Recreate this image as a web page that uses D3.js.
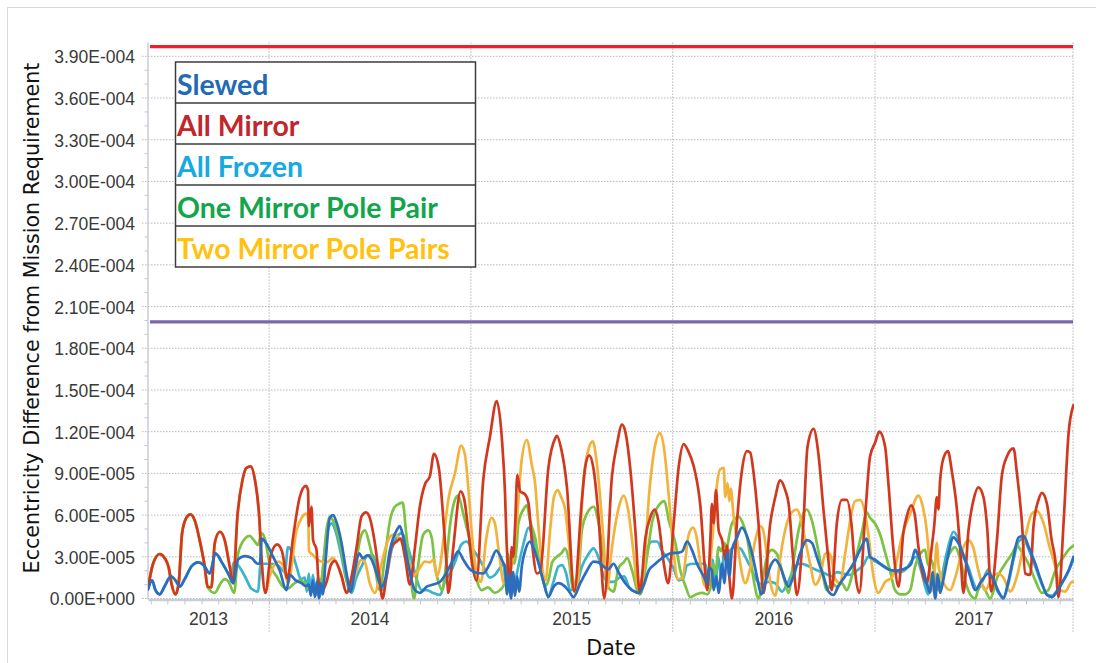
<!DOCTYPE html>
<html><head><meta charset="utf-8">
<script src="https://cdn.jsdelivr.net/npm/d3@7"></script>
<style>html,body{margin:0;padding:0;background:#fff;} svg{display:block;}</style>
</head><body><svg id="chart" width="1096" height="663"></svg>
<script>
// ---- DATA (time as decimal year, value in units of 1e-5) ----
const unit = 1e-5;
const yTickValues = [0, 3e-5, 6e-5, 9e-5, 1.2e-4, 1.5e-4, 1.8e-4, 2.1e-4, 2.4e-4, 2.7e-4, 3.0e-4, 3.3e-4, 3.6e-4, 3.9e-4];
const yMinorStep = 1e-5;
const years = [2013, 2014, 2015, 2016, 2017];
const dateStart = "2013-05-27", dateEnd = "2017-12-25";
const requirementLine = 3.97e-4;
const halfRequirementLine = 1.99e-4;
const legendLabels = ["Slewed", "All Mirror", "All Frozen", "One Mirror Pole Pair", "Two Mirror Pole Pairs"];

const slewed = [
[2013.400,0.66],[2013.420,1.3],[2013.437,0.6],[2013.458,0.3],[2013.483,0.9],[2013.513,1.6],[2013.541,1.2],[2013.557,0.85],[2013.582,1.4],[2013.615,2.3],[2013.648,2.6],[2013.676,2.4],[2013.706,1.8],[2013.734,3.25],[2013.766,2.6],[2013.797,1.8],[2013.822,1.1],[2013.846,2.8],[2013.880,3.05],[2013.914,2.9],[2013.944,2.5],[2013.954,2.5],[2013.964,4.3],[2013.984,4.0],
[2014.020,3.0],[2014.053,2.0],[2014.086,0.6],[2014.103,1.7],[2014.132,1.3],[2014.161,1.1],[2014.182,0.9],[2014.197,1.0],[2014.207,0.2],[2014.217,1.3],[2014.227,0.1],[2014.237,1.2],[2014.247,0.0],[2014.256,1.1],[2014.266,0.3],[2014.279,2.5],[2014.301,5.8],[2014.317,6.0],[2014.336,5.4],[2014.359,4.0],[2014.384,1.8],[2014.404,0.5],[2014.425,2.0],[2014.446,3.25],[2014.465,2.9],[2014.486,3.1],[2014.508,2.8],[2014.529,2.0],[2014.557,0.85],[2014.574,1.3],[2014.599,3.5],[2014.632,4.9],[2014.648,5.2],[2014.665,4.4],[2014.689,2.5],[2014.723,0.6],[2014.747,0.4],[2014.781,0.85],[2014.813,1.0],[2014.847,1.2],[2014.880,1.9],[2014.913,2.8],[2014.937,3.4],[2014.962,2.8],[2014.995,2.1],
[2015.028,1.85],[2015.061,1.8],[2015.094,2.5],[2015.126,3.45],[2015.144,3.1],[2015.159,2.6],[2015.169,2.3],[2015.179,0.3],[2015.189,1.8],[2015.199,0.0],[2015.209,1.9],[2015.219,0.2],[2015.229,1.6],[2015.239,0.5],[2015.253,2.4],[2015.268,3.4],[2015.293,4.1],[2015.308,3.7],[2015.334,2.6],[2015.358,1.3],[2015.384,0.1],[2015.408,0.8],[2015.434,1.1],[2015.467,0.85],[2015.487,0.5],[2015.508,0.1],[2015.542,1.1],[2015.575,2.0],[2015.608,2.65],[2015.633,2.6],[2015.658,2.3],[2015.681,2.1],[2015.707,2.5],[2015.731,1.9],[2015.765,1.1],[2015.799,0.6],[2015.832,0.4],[2015.855,0.9],[2015.881,2.0],[2015.914,2.5],[2015.956,3.0],[2015.989,3.25],
[2016.030,3.3],[2016.048,3.4],[2016.071,4.1],[2016.095,3.5],[2016.120,2.5],[2016.153,1.6],[2016.170,1.1],[2016.181,2.2],[2016.194,2.0],[2016.202,0.6],[2016.216,1.6],[2016.227,0.4],[2016.244,2.5],[2016.255,1.1],[2016.268,3.25],[2016.280,1.6],[2016.293,3.5],[2016.318,4.4],[2016.342,5.1],[2016.367,4.5],[2016.392,3.25],[2016.416,1.6],[2016.438,0.3],[2016.457,1.1],[2016.482,2.3],[2016.507,2.8],[2016.531,2.3],[2016.556,1.3],[2016.572,0.85],[2016.597,1.6],[2016.630,3.25],[2016.663,4.2],[2016.688,4.0],[2016.712,3.0],[2016.745,1.6],[2016.770,0.5],[2016.794,0.25],[2016.819,0.9],[2016.852,1.6],[2016.893,2.5],[2016.926,3.5],[2016.959,4.3],[2016.975,3.0],
[2017.000,2.8],[2017.033,2.4],[2017.066,2.1],[2017.094,2.0],[2017.124,2.05],[2017.154,2.2],[2017.179,2.5],[2017.198,3.5],[2017.216,3.0],[2017.240,2.05],[2017.256,1.1],[2017.273,0.4],[2017.285,1.9],[2017.298,0.0],[2017.312,1.7],[2017.322,0.4],[2017.339,1.4],[2017.364,3.25],[2017.388,4.4],[2017.412,4.0],[2017.446,2.8],[2017.471,1.6],[2017.496,0.6],[2017.529,1.3],[2017.562,1.8],[2017.585,1.4],[2017.612,0.5],[2017.636,0.0],[2017.660,1.2],[2017.686,3.0],[2017.711,4.4],[2017.736,4.5],[2017.759,3.8],[2017.794,2.5],[2017.827,1.1],[2017.852,0.25],[2017.876,0.1],[2017.901,0.5],[2017.926,1.1],[2017.959,2.0],[2017.983,3.0]
];

const allMirror = [
[2013.400,0.73],[2013.425,2.5],[2013.458,3.2],[2013.483,2.9],[2013.503,2.2],[2013.516,1.1],[2013.536,0.3],[2013.552,1.1],[2013.569,4.7],[2013.590,5.8],[2013.610,6.05],[2013.632,5.6],[2013.656,4.2],[2013.681,2.3],[2013.695,0.85],[2013.714,0.8],[2013.731,4.0],[2013.756,4.8],[2013.780,4.2],[2013.805,2.3],[2013.822,1.1],[2013.843,5.9],[2013.868,8.5],[2013.888,9.4],[2013.909,9.5],[2013.929,8.6],[2013.951,5.9],[2013.962,3.0],[2013.982,0.4],
[2014.008,3.1],[2014.040,3.9],[2014.064,3.4],[2014.091,1.45],[2014.119,4.4],[2014.152,7.3],[2014.182,8.1],[2014.193,7.8],[2014.197,5.2],[2014.210,6.6],[2014.218,4.2],[2014.235,3.5],[2014.243,1.6],[2014.251,0.6],[2014.261,0.5],[2014.285,1.2],[2014.306,2.4],[2014.326,2.7],[2014.359,1.6],[2014.384,0.4],[2014.409,1.6],[2014.434,3.7],[2014.458,5.9],[2014.480,6.2],[2014.499,5.8],[2014.524,4.0],[2014.546,1.6],[2014.562,0.0],[2014.582,1.6],[2014.607,3.7],[2014.632,4.1],[2014.652,4.3],[2014.673,3.0],[2014.698,1.0],[2014.723,3.7],[2014.747,6.6],[2014.772,8.2],[2014.797,8.8],[2014.817,10.4],[2014.842,9.3],[2014.863,5.8],[2014.879,2.5],[2014.888,0.4],[2014.913,3.7],[2014.949,7.7],[2014.966,7.2],[2014.987,4.9],
[2015.003,2.8],[2015.028,1.3],[2015.061,8.5],[2015.094,11.6],[2015.128,14.2],[2015.153,11.6],[2015.169,7.6],[2015.177,4.0],[2015.185,2.0],[2015.194,0.4],[2015.202,3.7],[2015.210,3.0],[2015.219,5.2],[2015.230,8.9],[2015.244,7.7],[2015.268,7.5],[2015.285,6.9],[2015.303,4.0],[2015.327,1.8],[2015.343,1.9],[2015.384,9.4],[2015.417,11.5],[2015.426,11.7],[2015.447,10.8],[2015.476,8.0],[2015.512,0.5],[2015.550,7.1],[2015.567,9.5],[2015.586,10.3],[2015.608,9.3],[2015.633,5.8],[2015.661,0.0],[2015.699,8.8],[2015.724,11.1],[2015.749,12.5],[2015.765,12.0],[2015.790,9.3],[2015.815,4.9],[2015.837,0.4],[2015.865,4.4],[2015.890,5.9],[2015.911,6.4],[2015.929,5.6],[2015.956,2.5],[2015.978,1.1],
[2016.005,5.4],[2016.030,9.5],[2016.054,11.1],[2016.077,10.6],[2016.104,9.5],[2016.137,6.6],[2016.161,1.8],[2016.171,0.6],[2016.186,4.2],[2016.194,6.8],[2016.202,5.4],[2016.214,7.8],[2016.227,4.9],[2016.244,4.2],[2016.260,2.8],[2016.268,3.8],[2016.280,1.5],[2016.293,0.0],[2016.318,5.6],[2016.342,9.2],[2016.367,10.6],[2016.383,10.5],[2016.400,9.0],[2016.424,5.4],[2016.449,0.4],[2016.482,5.4],[2016.507,7.3],[2016.531,8.5],[2016.556,7.8],[2016.573,6.8],[2016.597,2.5],[2016.614,0.25],[2016.646,5.4],[2016.666,10.9],[2016.696,12.2],[2016.720,10.4],[2016.745,6.4],[2016.768,3.0],[2016.786,0.6],[2016.811,5.4],[2016.836,7.1],[2016.860,7.1],[2016.885,5.1],[2016.901,2.0],[2016.922,0.4],[2016.951,5.9],[2016.975,10.2],
[2017.000,11.2],[2017.021,12.0],[2017.050,10.9],[2017.066,8.3],[2017.091,3.5],[2017.116,0.85],[2017.140,4.7],[2017.157,5.9],[2017.179,6.7],[2017.196,6.1],[2017.215,3.7],[2017.233,2.0],[2017.256,1.1],[2017.281,3.7],[2017.293,5.2],[2017.306,7.3],[2017.314,6.4],[2017.322,8.4],[2017.339,10.1],[2017.361,10.6],[2017.380,9.2],[2017.405,6.5],[2017.422,3.5],[2017.438,0.4],[2017.463,4.9],[2017.488,7.1],[2017.512,8.0],[2017.537,7.3],[2017.556,5.0],[2017.575,0.5],[2017.604,4.2],[2017.628,8.8],[2017.653,10.2],[2017.686,10.8],[2017.703,9.0],[2017.728,5.4],[2017.744,1.8],[2017.769,1.7],[2017.785,5.2],[2017.810,7.1],[2017.827,7.6],[2017.852,6.8],[2017.875,4.2],[2017.893,2.8],[2017.909,0.1],[2017.934,5.4],[2017.959,11.9],[2017.983,13.9]
];

const allFrozen = [
[2013.400,0.66],[2013.420,1.3],[2013.437,0.6],[2013.458,0.3],[2013.483,0.9],[2013.513,1.6],[2013.541,1.2],[2013.557,0.85],[2013.582,1.4],[2013.615,2.3],[2013.648,2.6],[2013.676,2.4],[2013.706,1.8],[2013.734,3.25],[2013.766,2.6],[2013.797,1.8],
[2013.810,1.5],[2013.825,2.6],[2013.846,2.4],[2013.880,1.6],[2013.913,0.7],[2013.946,0.5],[2013.952,1.5],[2013.957,2.5],
[2014.012,2.5],[2014.043,2.4],[2014.078,1.9],[2014.094,3.7],[2014.108,3.5],[2014.136,2.3],[2014.157,1.4],[2014.177,1.5],[2014.187,0.5],[2014.197,1.8],[2014.207,0.3],[2014.217,1.7],[2014.232,0.2],[2014.242,1.6],[2014.251,0.1],[2014.261,1.0],[2014.276,3.5],[2014.310,5.4],[2014.326,5.0],[2014.359,3.0],[2014.380,1.5],[2014.409,0.4],[2014.430,1.4],[2014.458,2.3],[2014.490,3.1],[2014.516,3.1],[2014.534,2.0],[2014.557,0.6],[2014.582,1.6],[2014.607,3.5],[2014.632,4.4],[2014.657,4.7],[2014.681,4.0],[2014.706,2.8],[2014.731,1.4],[2014.756,0.6],[2014.781,0.6],[2014.813,0.4],[2014.847,0.25],[2014.871,1.2],[2014.896,1.8],[2014.921,2.6],[2014.954,3.9],[2014.979,4.1],
[2015.005,3.6],[2015.036,3.0],[2015.065,2.2],[2015.094,1.5],[2015.119,1.7],[2015.144,2.2],[2015.161,2.5],[2015.174,1.0],[2015.184,2.2],[2015.194,0.3],[2015.204,1.6],[2015.214,0.5],[2015.224,1.5],[2015.235,2.3],[2015.260,3.9],[2015.286,5.1],[2015.303,4.6],[2015.331,3.0],[2015.359,1.3],[2015.384,0.2],[2015.409,1.2],[2015.434,2.3],[2015.452,2.4],[2015.472,1.8],[2015.492,0.6],[2015.517,0.7],[2015.550,2.3],[2015.583,3.2],[2015.608,3.6],[2015.631,3.0],[2015.658,1.6],[2015.681,1.2],[2015.707,1.2],[2015.736,1.5],[2015.760,1.6],[2015.782,0.85],[2015.815,0.5],[2015.840,1.0],[2015.873,3.5],[2015.898,4.1],[2015.923,4.1],[2015.948,3.4],[2015.979,2.8],
[2016.003,2.2],[2016.030,1.3],[2016.053,1.5],[2016.071,2.4],[2016.104,2.5],[2016.137,2.5],[2016.161,2.5],[2016.181,1.0],[2016.196,2.8],[2016.211,0.9],[2016.225,3.0],[2016.240,1.5],[2016.255,3.4],[2016.270,2.2],[2016.285,3.5],[2016.309,3.7],[2016.334,3.6],[2016.359,3.0],[2016.383,2.3],[2016.416,1.3],[2016.441,1.0],[2016.474,1.2],[2016.507,1.1],[2016.540,0.5],[2016.571,1.2],[2016.605,2.3],[2016.630,2.5],[2016.660,2.4],[2016.688,2.2],[2016.719,2.0],[2016.753,1.8],[2016.786,1.6],[2016.811,1.9],[2016.842,1.8],[2016.877,1.7],[2016.910,2.0],[2016.942,2.4],[2016.967,3.0],[2016.995,2.7],
[2017.025,2.5],[2017.058,2.2],[2017.089,1.9],[2017.124,1.9],[2017.159,2.2],[2017.184,2.8],[2017.203,3.0],[2017.228,2.0],[2017.248,0.9],[2017.263,0.3],[2017.278,1.5],[2017.293,0.4],[2017.308,1.8],[2017.322,0.6],[2017.337,2.0],[2017.364,3.8],[2017.388,4.8],[2017.412,4.3],[2017.437,3.0],[2017.461,2.3],[2017.486,1.2],[2017.506,0.6],[2017.537,1.4],[2017.562,2.1],[2017.585,1.2],[2017.612,0.4],[2017.636,0.1],[2017.660,1.0],[2017.686,2.8],[2017.711,4.1],[2017.736,4.3],[2017.759,3.6],[2017.794,2.3],[2017.827,1.0],[2017.852,0.3],[2017.876,0.2],[2017.903,0.6],[2017.928,1.2],[2017.959,2.0],[2017.983,2.8]
];

const oneMirrorPolePair = [
[2013.400,0.73],[2013.425,2.5],[2013.458,3.2],[2013.483,2.9],[2013.503,2.2],[2013.516,1.1],[2013.536,0.3],[2013.552,1.1],[2013.569,4.7],[2013.590,5.8],[2013.610,6.05],[2013.632,5.6],[2013.656,4.2],[2013.681,2.3],
[2013.696,0.8],[2013.731,0.4],[2013.756,1.0],[2013.780,1.4],[2013.800,1.2],[2013.827,0.4],[2013.846,3.2],[2013.880,4.3],[2013.904,4.5],[2013.924,4.2],[2013.946,3.85],[2013.962,4.7],[2013.979,4.3],
[2014.003,2.5],[2014.037,1.6],[2014.069,0.85],[2014.093,0.7],[2014.118,1.0],[2014.152,1.3],[2014.177,1.1],[2014.202,0.6],[2014.222,0.5],[2014.242,0.8],[2014.261,1.5],[2014.285,5.0],[2014.301,5.9],[2014.317,5.6],[2014.351,4.0],[2014.375,2.2],[2014.400,0.6],[2014.425,2.2],[2014.458,4.6],[2014.475,4.9],[2014.499,3.8],[2014.524,2.2],[2014.549,0.6],[2014.574,3.0],[2014.599,5.6],[2014.623,6.6],[2014.643,6.8],[2014.662,6.9],[2014.678,4.9],[2014.698,2.2],[2014.718,0.0],[2014.738,2.3],[2014.764,4.6],[2014.789,4.9],[2014.807,4.3],[2014.822,2.3],[2014.837,1.3],[2014.857,0.6],[2014.876,2.3],[2014.896,5.2],[2014.921,7.1],[2014.937,7.4],[2014.962,6.1],[2014.981,5.0],
[2014.998,4.0],[2015.028,1.4],[2015.053,0.6],[2015.084,0.8],[2015.119,0.4],[2015.144,0.6],[2015.164,1.0],[2015.177,1.8],[2015.185,3.2],[2015.194,2.0],[2015.204,3.3],[2015.214,2.5],[2015.227,3.8],[2015.235,5.4],[2015.260,6.4],[2015.277,6.7],[2015.293,5.6],[2015.318,4.4],[2015.343,2.3],[2015.368,0.9],[2015.384,1.3],[2015.403,2.6],[2015.426,3.0],[2015.451,3.3],[2015.467,3.6],[2015.484,2.9],[2015.508,0.6],[2015.527,0.8],[2015.550,4.9],[2015.575,6.1],[2015.608,6.6],[2015.633,5.4],[2015.658,3.0],[2015.681,0.8],[2015.707,0.5],[2015.732,2.2],[2015.757,2.6],[2015.774,2.9],[2015.799,2.0],[2015.824,0.6],[2015.840,0.3],[2015.873,3.0],[2015.898,5.5],[2015.931,6.7],[2015.959,7.0],[2015.981,5.6],
[2016.013,4.0],[2016.038,2.0],[2016.063,0.9],[2016.087,0.1],[2016.117,0.3],[2016.147,0.4],[2016.171,0.3],[2016.191,1.0],[2016.201,2.5],[2016.211,1.8],[2016.227,3.7],[2016.240,3.4],[2016.255,4.0],[2016.267,3.6],[2016.280,4.6],[2016.293,5.4],[2016.326,5.9],[2016.344,5.5],[2016.367,4.4],[2016.383,3.0],[2016.403,1.1],[2016.424,0.0],[2016.447,1.6],[2016.466,3.0],[2016.490,3.5],[2016.515,3.2],[2016.540,2.0],[2016.556,1.1],[2016.572,0.4],[2016.595,2.5],[2016.622,4.9],[2016.646,6.1],[2016.663,6.4],[2016.688,5.6],[2016.712,4.0],[2016.737,2.1],[2016.762,0.6],[2016.786,1.1],[2016.811,0.85],[2016.836,1.1],[2016.860,0.6],[2016.885,1.6],[2016.910,3.2],[2016.934,4.7],[2016.959,6.2],[2016.975,5.8],
[2017.000,5.4],[2017.025,4.6],[2017.050,3.3],[2017.074,2.0],[2017.099,0.6],[2017.124,0.3],[2017.149,0.3],[2017.174,0.6],[2017.198,2.3],[2017.223,3.2],[2017.248,3.5],[2017.263,2.4],[2017.278,2.8],[2017.293,2.0],[2017.314,0.6],[2017.332,1.3],[2017.356,2.8],[2017.380,3.5],[2017.397,3.7],[2017.422,2.8],[2017.446,1.3],[2017.471,0.3],[2017.496,0.0],[2017.521,1.1],[2017.546,0.6],[2017.570,0.0],[2017.605,1.5],[2017.645,2.5],[2017.678,3.2],[2017.703,3.8],[2017.729,3.3],[2017.760,2.5],[2017.794,1.3],[2017.827,0.4],[2017.858,0.6],[2017.893,2.0],[2017.926,2.8],[2017.959,3.5],[2017.983,3.8]
];

const twoMirrorPolePairs = [
[2013.400,0.73],[2013.425,2.5],[2013.458,3.2],[2013.483,2.9],[2013.503,2.2],[2013.516,1.1],[2013.536,0.3],[2013.552,1.1],[2013.569,4.7],[2013.590,5.8],[2013.610,6.05],[2013.632,5.6],[2013.656,4.2],[2013.681,2.3],[2013.695,0.85],[2013.714,0.8],[2013.731,4.0],[2013.756,4.8],[2013.780,4.2],[2013.805,2.3],[2013.822,1.1],[2013.843,5.9],[2013.868,8.5],[2013.888,9.4],[2013.909,9.5],[2013.929,8.6],[2013.951,5.9],[2013.962,3.0],[2013.982,0.4],
[2014.003,1.6],[2014.045,2.65],[2014.068,2.4],[2014.094,1.1],[2014.136,4.9],[2014.161,5.8],[2014.186,6.1],[2014.194,5.8],[2014.198,3.4],[2014.212,3.2],[2014.232,2.9],[2014.251,2.7],[2014.285,2.6],[2014.316,2.9],[2014.336,2.5],[2014.356,1.8],[2014.384,0.5],[2014.415,1.2],[2014.458,2.8],[2014.475,2.6],[2014.499,1.1],[2014.524,0.4],[2014.557,2.5],[2014.590,4.2],[2014.615,4.6],[2014.648,4.3],[2014.689,2.7],[2014.714,1.6],[2014.738,2.0],[2014.772,2.65],[2014.797,2.6],[2014.817,2.8],[2014.832,1.6],[2014.847,2.3],[2014.866,4.5],[2014.888,7.1],[2014.921,9.0],[2014.952,11.0],[2014.971,10.3],[2014.987,8.0],
[2015.005,4.6],[2015.028,1.9],[2015.050,1.2],[2015.075,4.2],[2015.103,5.8],[2015.119,5.4],[2015.139,3.3],[2015.164,1.1],[2015.204,2.5],[2015.224,5.0],[2015.252,10.0],[2015.277,11.4],[2015.302,9.6],[2015.318,8.3],[2015.333,5.5],[2015.353,2.3],[2015.370,1.3],[2015.393,5.0],[2015.413,7.4],[2015.430,7.8],[2015.447,7.3],[2015.467,6.4],[2015.482,4.5],[2015.502,1.6],[2015.524,0.8],[2015.558,8.5],[2015.586,10.9],[2015.604,11.3],[2015.621,10.1],[2015.641,7.2],[2015.658,4.0],[2015.676,0.7],[2015.696,3.3],[2015.732,6.5],[2015.757,7.4],[2015.780,6.3],[2015.805,3.4],[2015.828,0.8],[2015.850,1.3],[2015.885,7.8],[2015.910,10.8],[2015.937,11.9],[2015.957,10.8],[2015.981,7.3],
[2015.999,4.2],[2016.026,1.4],[2016.048,1.5],[2016.079,4.6],[2016.100,5.1],[2016.117,4.5],[2016.137,2.5],[2016.156,1.0],[2016.171,0.8],[2016.191,3.5],[2016.206,6.0],[2016.219,8.2],[2016.235,9.3],[2016.252,9.4],[2016.260,7.3],[2016.271,8.3],[2016.280,7.0],[2016.287,7.9],[2016.301,5.9],[2016.318,4.2],[2016.334,2.5],[2016.359,1.1],[2016.383,2.2],[2016.408,4.2],[2016.433,5.2],[2016.449,4.8],[2016.466,3.0],[2016.482,1.2],[2016.507,0.2],[2016.531,2.9],[2016.564,5.4],[2016.589,6.2],[2016.614,6.4],[2016.630,5.9],[2016.655,4.2],[2016.679,2.5],[2016.704,1.0],[2016.729,1.6],[2016.753,3.2],[2016.770,3.3],[2016.786,2.8],[2016.803,1.4],[2016.827,1.1],[2016.852,3.2],[2016.877,5.6],[2016.901,7.0],[2016.926,7.1],[2016.951,6.1],[2016.967,4.6],[2016.992,1.6],
[2017.016,0.4],[2017.050,1.2],[2017.083,1.5],[2017.104,2.5],[2017.132,4.4],[2017.174,6.1],[2017.215,7.4],[2017.233,6.8],[2017.256,4.9],[2017.270,2.5],[2017.281,0.6],[2017.295,2.0],[2017.306,4.0],[2017.314,2.4],[2017.337,1.2],[2017.372,0.6],[2017.397,1.5],[2017.438,3.7],[2017.463,4.2],[2017.486,3.7],[2017.512,2.0],[2017.546,0.6],[2017.579,1.5],[2017.612,1.8],[2017.636,1.5],[2017.670,0.5],[2017.703,1.6],[2017.744,4.4],[2017.777,6.1],[2017.802,6.3],[2017.835,5.4],[2017.863,3.8],[2017.893,2.3],[2017.918,0.6],[2017.942,0.5],[2017.976,1.2],[2017.983,1.2]
];

const series = [
  {name: "All Frozen", data: allFrozen, color: "#3bb3cf"},
  {name: "One Mirror Pole Pair", data: oneMirrorPolePair, color: "#7cc243"},
  {name: "Two Mirror Pole Pairs", data: twoMirrorPolePairs, color: "#f2b33d"},
  {name: "All Mirror", data: allMirror, color: "#d2381e"},
  {name: "Slewed", data: slewed, color: "#2c6dbe"}
];
const legendColors = ["#1f6bb5", "#c0272d", "#17a9e1", "#11a64b", "#ffc20e"];

// ---- RENDER ----
const W = 1096, H = 663;
const L = 148, R = 1073, T = 42.4, B = 598.5;
const svg = d3.select("#chart");
const FONT = "'Liberation Sans', Arial, sans-serif";
const TFONT = "'DejaVu Sans', Verdana, sans-serif";

function yearToDate(t) {
  const yr = Math.floor(t);
  const s = Date.UTC(yr, 0, 1), e = Date.UTC(yr + 1, 0, 1);
  return new Date(s + (t - yr) * (e - s));
}

const x = d3.scaleUtc().domain([new Date(dateStart + "T00:00:00Z"), new Date(dateEnd + "T00:00:00Z")]).range([L, R]);
const y = d3.scaleLinear().domain([0, 4e-4]).range([B, T]);

svg.append("rect").attr("width", W).attr("height", H).attr("fill", "#fff");
svg.append("rect").attr("x", 7.5).attr("y", 7.5).attr("width", W).attr("height", H)
  .attr("fill", "none").attr("stroke", "#d6d9de").attr("stroke-width", 1);

// horizontal gridlines
svg.append("g").selectAll("line").data(yTickValues).join("line")
  .attr("x1", L - 6).attr("x2", R)
  .attr("y1", d => y(d)).attr("y2", d => y(d))
  .attr("stroke", "#b5b8c0").attr("stroke-width", 1).attr("stroke-dasharray", "1.5,1.5");

// minor y ticks
const minor = d3.range(0, 40).map(i => i * yMinorStep).filter((d, i) => i % 3 !== 0);
svg.append("g").selectAll("line").data(minor).join("line")
  .attr("x1", L - 3.5).attr("x2", L)
  .attr("y1", d => y(d)).attr("y2", d => y(d))
  .attr("stroke", "#c3c6cc").attr("stroke-width", 1);

// vertical year gridlines
const yearStarts = d3.utcYear.range(x.domain()[0], x.domain()[1]).filter(d => x(d) > L + 1);
const vlines = yearStarts.map(d => x(d)).concat([R]);
svg.append("g").selectAll("line").data(vlines).join("line")
  .attr("x1", d => d).attr("x2", d => d).attr("y1", T).attr("y2", 632)
  .attr("stroke", "#b5b8c0").attr("stroke-width", 1).attr("stroke-dasharray", "1.5,1.5");

// y axis labels
function fmt(v) {
  const s = v.toExponential(2);
  const [m, e] = s.split("e");
  const sign = e[0] === "-" ? "-" : "+";
  const digits = e.replace(/[+-]/, "").padStart(3, "0");
  return m + "E" + sign + digits;
}
const yAxis = d3.axisLeft(y).tickValues(yTickValues).tickFormat(fmt).tickSize(0).tickPadding(13);
const gy = svg.append("g").attr("transform", `translate(${L},0)`).call(yAxis);
gy.select(".domain").remove();
gy.selectAll("text").attr("font-family", FONT).attr("font-size", 17.5).attr("fill", "#3a3a3a").attr("dy", "0.37em");

// axis lines
svg.append("line").attr("x1", L).attr("x2", L).attr("y1", T).attr("y2", B + 1)
  .attr("stroke", "#c9cdd5").attr("stroke-width", 1.5);

// month ticks
const months = d3.utcMonth.range(x.domain()[0], x.domain()[1]);
const xAxis = d3.axisBottom(x).tickValues(months).tickFormat("").tickSizeOuter(0).tickSizeInner(5);
const gx = svg.append("g").attr("transform", `translate(0,${B + 1})`).call(xAxis);
gx.select(".domain").attr("stroke", "#c9cdd5").attr("stroke-width", 2.5);
gx.selectAll(".tick line").attr("stroke", "#c3c6cc");

// year labels
svg.append("g").selectAll("text").data(years).join("text")
  .attr("x", yr => {
    const a = Math.max(x(new Date(Date.UTC(yr, 0, 1))), L);
    const b = Math.min(x(new Date(Date.UTC(yr + 1, 0, 1))), R);
    return (a + b) / 2;
  })
  .attr("y", 625).attr("text-anchor", "middle")
  .attr("font-family", FONT).attr("font-size", 17.5).attr("fill", "#3a3a3a")
  .text(d => String(d));

// reference lines
svg.append("line").attr("x1", L + 2).attr("x2", R).attr("y1", y(requirementLine)).attr("y2", y(requirementLine))
  .attr("stroke", "#ee1f2a").attr("stroke-width", 3.2);
svg.append("line").attr("x1", L + 2).attr("x2", R).attr("y1", y(halfRequirementLine)).attr("y2", y(halfRequirementLine))
  .attr("stroke", "#7a66a9").attr("stroke-width", 3.2);

// series
svg.append("clipPath").attr("id", "clip").append("rect").attr("x", L).attr("y", T - 5).attr("width", R - L + 1).attr("height", B - T + 8);
const line = d3.line().x(d => x(yearToDate(d[0]))).y(d => y(d[1] * unit)).curve(d3.curveMonotoneX);
svg.append("g").attr("clip-path", "url(#clip)").selectAll("path").data(series).join("path")
  .attr("d", s => line(s.data)).attr("fill", "none").attr("stroke", s => s.color)
  .attr("stroke-width", 2.7).attr("stroke-linejoin", "round").attr("stroke-linecap", "round");

// legend
const lg = svg.append("g");
const lx = 175.5, ly = 62, lw = 300, rh = 41;
lg.append("rect").attr("x", lx).attr("y", ly).attr("width", lw).attr("height", rh * 5)
  .attr("fill", "#fff").attr("stroke", "#3c3c3c").attr("stroke-width", 1.5);
lg.selectAll("line").data([1, 2, 3, 4]).join("line")
  .attr("x1", lx).attr("x2", lx + lw).attr("y1", i => ly + rh * i).attr("y2", i => ly + rh * i)
  .attr("stroke", "#3c3c3c").attr("stroke-width", 1.5);
const LFONT = "Lato, 'Open Sans', sans-serif";
const probe = lg.append("text").attr("font-family", LFONT).attr("font-weight", "bold").attr("font-size", 24).text(legendLabels[4]);
const pw = probe.node().getComputedTextLength();
probe.remove();
const lfs = 24 * 273 / pw;
lg.selectAll("text.lab").data(legendLabels).join("text").attr("class", "lab")
  .attr("x", lx + 1.5).attr("y", (d, i) => ly + rh * i + 33)
  .attr("font-family", LFONT).attr("font-weight", "bold").attr("font-size", lfs)
  .attr("fill", (d, i) => legendColors[i]).text(d => d);

// axis titles
const yt = svg.append("text").attr("transform", "translate(39,318) rotate(-90)")
  .attr("text-anchor", "middle").attr("font-family", TFONT).attr("font-size", 19)
  .attr("fill", "#111").text("Eccentricity Difference from Mission Requirement");
const ytw = yt.node().getComputedTextLength();
const tfs = 19 * 511 / ytw;
yt.attr("font-size", tfs);
svg.append("text").attr("x", 611).attr("y", 655).attr("text-anchor", "middle")
  .attr("font-family", TFONT).attr("font-size", tfs).attr("fill", "#111").text("Date");
</script>
</body></html>
